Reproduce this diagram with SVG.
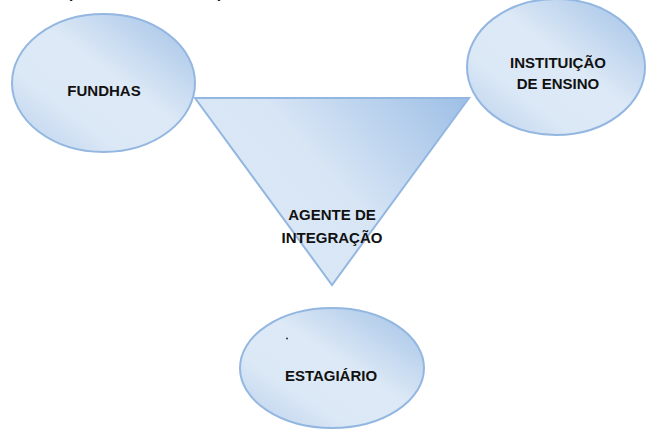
<svg xmlns="http://www.w3.org/2000/svg" width="646" height="429" viewBox="0 0 646 429">
<defs>
<linearGradient id="g" x1="0" y1="1" x2="1" y2="0">
<stop offset="0" stop-color="#b8cfec"/>
<stop offset="0.3" stop-color="#dbe8f6"/>
<stop offset="0.55" stop-color="#dde9f6"/>
<stop offset="1" stop-color="#9fc0e6"/>
</linearGradient>
<linearGradient id="gt" x1="0" y1="0.6" x2="1" y2="0">
<stop offset="0" stop-color="#dde9f6"/>
<stop offset="0.45" stop-color="#d7e5f5"/>
<stop offset="1" stop-color="#9dbfe6"/>
</linearGradient>
<style>
.shape{stroke:#93b7e0;stroke-width:2}
.lbl{font-family:"Liberation Sans",Arial,sans-serif;font-weight:bold;font-size:15px;fill:#111;text-anchor:middle}
</style>
</defs>
<rect width="646" height="429" fill="#fff"/>
<text x="70" y="-2" class="lbl">(</text>
<text x="220" y="-2" class="lbl">)</text>
<g id="agente">
<polygon class="shape" points="195,98 469,98 332,285" fill="url(#gt)"/>
<text class="lbl" x="332" y="220">AGENTE DE</text>
<text class="lbl" x="332" y="243">INTEGRAÇÃO</text>
</g>
<g id="fundhas">
<ellipse class="shape" cx="103.5" cy="83" rx="91.5" ry="69" fill="url(#g)"/>
<text class="lbl" x="104" y="96">FUNDHAS</text>
</g>
<g id="instituicao">
<ellipse class="shape" cx="556" cy="67" rx="89" ry="68" fill="url(#g)"/>
<text class="lbl" x="558" y="68">INSTITUIÇÃO</text>
<text class="lbl" x="558" y="89">DE ENSINO</text>
</g>
<g id="estagiario">
<ellipse class="shape" cx="332" cy="368" rx="92" ry="60" fill="url(#g)"/>
<circle cx="287" cy="338.5" r="0.9" fill="#222"/>
<text class="lbl" x="331" y="381">ESTAGIÁRIO</text>
</g>
<g id="connectors"></g>
</svg>
